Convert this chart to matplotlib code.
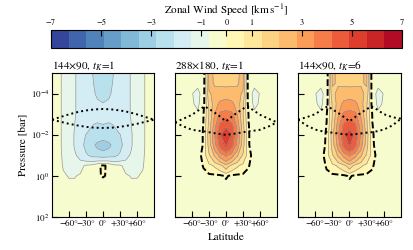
import numpy as np
import matplotlib
matplotlib.use("Agg")
import matplotlib.pyplot as plt

plt.rcParams['font.family'] = 'STIXGeneral'
plt.rcParams['mathtext.fontset'] = 'stix'

# ---------------- data ----------------
titles = [r'144$\times$90, $t_K$=1', r'288$\times$180, $t_K$=1', r'144$\times$90, $t_K$=6']
lat_half = [0, 10, 20, 30, 40, 50, 60, 70, 80, 90]              # degrees (field is symmetric)
logp_rows = [-5.0, -4.5, -4.0, -3.5, -3.0, -2.5, -2.0, -1.5, -1.0, -0.5, 0.0, 0.5, 1.0, 1.5, 2.0]

# zonal wind [km/s], rows = logp_rows, cols = lat_half
wind_144_tk1 = [
    [-2.50, -2.35, -2.05, -1.80, -1.60, -1.35, -1.05, -0.85, -0.45, -0.30],
    [-2.45, -2.30, -2.00, -1.80, -1.60, -1.35, -1.05, -0.85, -0.45, -0.30],
    [-2.35, -2.20, -1.95, -1.75, -1.60, -1.35, -1.05, -0.85, -0.45, -0.30],
    [-2.05, -1.95, -1.85, -1.75, -1.60, -1.35, -1.05, -0.85, -0.45, -0.30],
    [-1.80, -1.80, -1.75, -1.70, -1.60, -1.35, -1.05, -0.85, -0.45, -0.30],
    [-2.10, -2.20, -2.05, -1.85, -1.65, -1.40, -1.05, -0.85, -0.45, -0.30],
    [-2.60, -2.55, -2.40, -2.12, -1.80, -1.45, -1.10, -0.85, -0.45, -0.30],
    [-3.10, -2.95, -2.60, -2.25, -1.90, -1.45, -1.10, -0.85, -0.45, -0.30],
    [-2.40, -2.30, -2.25, -2.00, -1.65, -1.30, -1.00, -0.80, -0.45, -0.30],
    [ 0.08, -0.10, -0.50, -0.60, -0.90, -1.00, -0.95, -0.75, -0.45, -0.30],
    [ 0.03, -0.05, -0.25, -0.30, -0.60, -0.75, -0.75, -0.60, -0.40, -0.30],
    [-0.30, -0.30, -0.30, -0.30, -0.30, -0.40, -0.40, -0.35, -0.30, -0.30],
    [-0.30, -0.30, -0.30, -0.30, -0.30, -0.30, -0.30, -0.30, -0.30, -0.30],
    [-0.30, -0.30, -0.30, -0.30, -0.30, -0.30, -0.30, -0.30, -0.30, -0.30],
    [-0.30, -0.30, -0.30, -0.30, -0.30, -0.30, -0.30, -0.30, -0.30, -0.30],
]
wind_288_tk1 = [
    [1.85, 1.95, 2.00, 2.30, -0.50, -0.50, -0.45, -0.35, -0.35, -0.35],
    [1.95, 2.00, 2.05, 2.25, -0.45, -0.60, -0.50, -0.35, -0.35, -0.35],
    [2.60, 2.50, 2.30, 2.00, -0.40, -0.90, -0.67, -0.35, -0.35, -0.35],
    [3.10, 3.00, 2.45, 1.60, -0.30, -0.85, -0.62, -0.35, -0.35, -0.35],
    [3.90, 3.70, 2.80, 1.45, -0.05, -0.50, -0.45, -0.35, -0.35, -0.35],
    [4.80, 4.40, 3.20, 1.60, 0.02, -0.45, -0.40, -0.35, -0.35, -0.35],
    [5.40, 4.90, 3.50, 1.80, 0.05, -0.40, -0.40, -0.35, -0.35, -0.35],
    [5.00, 4.50, 3.20, 1.70, 0.05, -0.40, -0.40, -0.35, -0.35, -0.35],
    [3.60, 3.10, 2.20, 1.30, 0.30, -0.40, -0.40, -0.35, -0.35, -0.35],
    [1.80, 1.20, 0.80, 0.50, 0.05, -0.40, -0.40, -0.35, -0.35, -0.35],
    [0.10, -0.15, -0.20, -0.20, -0.30, -0.35, -0.35, -0.35, -0.35, -0.35],
    [-0.40, -0.40, -0.40, -0.40, -0.40, -0.35, -0.35, -0.35, -0.35, -0.35],
    [-0.40, -0.40, -0.40, -0.40, -0.40, -0.35, -0.35, -0.35, -0.35, -0.35],
    [-0.40, -0.40, -0.40, -0.40, -0.40, -0.35, -0.35, -0.35, -0.35, -0.35],
    [-0.40, -0.40, -0.40, -0.40, -0.40, -0.35, -0.35, -0.35, -0.35, -0.35],
]
wind_144_tk6 = [
    [1.85, 1.95, 2.00, 2.20, -0.50, -0.50, -0.45, -0.35, -0.35, -0.35],
    [1.95, 2.00, 2.05, 2.15, -0.45, -0.60, -0.50, -0.35, -0.35, -0.35],
    [2.60, 2.50, 2.30, 1.90, -0.40, -0.90, -0.67, -0.35, -0.35, -0.35],
    [3.10, 3.00, 2.40, 1.50, -0.30, -0.85, -0.62, -0.35, -0.35, -0.35],
    [3.90, 3.70, 2.70, 1.40, -0.05, -0.50, -0.45, -0.35, -0.35, -0.35],
    [4.70, 4.30, 3.10, 1.55, 0.02, -0.45, -0.40, -0.35, -0.35, -0.35],
    [5.30, 4.80, 3.40, 1.80, 0.10, -0.40, -0.40, -0.35, -0.35, -0.35],
    [5.00, 4.40, 3.10, 1.70, 0.15, -0.40, -0.40, -0.35, -0.35, -0.35],
    [3.60, 3.00, 2.20, 1.30, 0.40, -0.35, -0.40, -0.35, -0.35, -0.35],
    [1.80, 1.20, 0.80, 0.50, 0.10, -0.40, -0.40, -0.35, -0.35, -0.35],
    [0.10, -0.15, -0.20, -0.20, -0.30, -0.35, -0.35, -0.35, -0.35, -0.35],
    [-0.40, -0.40, -0.40, -0.40, -0.40, -0.35, -0.35, -0.35, -0.35, -0.35],
    [-0.40, -0.40, -0.40, -0.40, -0.40, -0.35, -0.35, -0.35, -0.35, -0.35],
    [-0.40, -0.40, -0.40, -0.40, -0.40, -0.35, -0.35, -0.35, -0.35, -0.35],
    [-0.40, -0.40, -0.40, -0.40, -0.40, -0.35, -0.35, -0.35, -0.35, -0.35],
]
fields = [wind_144_tk1, wind_288_tk1, wind_144_tk6]

# dotted curves (log10 pressure vs latitude)
dot_lat = [-90, -75, -60, -45, -38, -30, -15, 0, 15, 30, 38, 45, 60, 75, 90]
dot_upper = [
    [-2.73, -2.86, -2.99, -3.10, -3.14, -3.18, -3.23, -3.25, -3.23, -3.18, -3.14, -3.10, -2.99, -2.86, -2.73],
    [-2.60, -2.78, -2.97, -3.25, -3.38, -3.26, -2.98, -2.65, -2.98, -3.26, -3.38, -3.25, -2.97, -2.78, -2.60],
    [-2.73, -2.85, -3.00, -3.28, -3.38, -3.24, -2.97, -2.65, -2.97, -3.24, -3.38, -3.28, -3.00, -2.85, -2.78],
]
dot_lower = [
    [-2.73, -2.63, -2.53, -2.45, -2.42, -2.38, -2.34, -2.33, -2.34, -2.38, -2.42, -2.45, -2.53, -2.63, -2.73],
    [-2.60, -2.40, -2.24, -2.18, -2.16, -2.12, -2.05, -1.99, -2.05, -2.12, -2.16, -2.18, -2.24, -2.40, -2.60],
    [-2.73, -2.45, -2.25, -2.15, -2.12, -2.10, -2.04, -2.00, -2.04, -2.10, -2.12, -2.15, -2.25, -2.45, -2.78],
]

levels = np.linspace(-7, 7, 21)
cbar_ticks = [-7, -5, -3, -1, 0, 1, 3, 5, 7]
cbar_ticklabels = ['\u22127', '\u22125', '\u22123', '\u22121', '0', '1', '3', '5', '7']
xticks = [-60, -30, 0, 30, 60]
xticklabels = ['\u221260\u00b0', '\u221230\u00b0', '0\u00b0', '+30\u00b0', '+60\u00b0']

# ---------------- figure ----------------
fig = plt.figure(figsize=(4.14, 2.50), dpi=100)
W, H = 414.0, 250.0
ax_px = [(52, 102), (175, 102), (298, 103)]
top_px, bot_px = 73, 217

lat_half_a = np.array(lat_half, float)
lat_full = np.concatenate([-lat_half_a[:0:-1], lat_half_a])
p_rows = 10.0 ** np.array(logp_rows)

axes = []
cs_main = None
for i, (x0, w) in enumerate(ax_px):
    ax = fig.add_axes([x0 / W, (H - bot_px) / H, w / W, (bot_px - top_px) / H])
    axes.append(ax)
    half = np.array(fields[i], float)
    full = np.hstack([half[:, :0:-1], half])
    cs = ax.contourf(lat_full, p_rows, full, levels=levels, cmap='RdYlBu_r')
    if cs_main is None:
        cs_main = cs
    grey_lv = [lv for lv in levels if abs(lv) > 1e-9]
    ax.contour(lat_full, p_rows, full, levels=grey_lv, colors='#959595', linewidths=0.5,
               linestyles='solid')
    ax.contour(lat_full, p_rows, full, levels=[0.0], colors='k', linewidths=1.4,
               linestyles=[(0, (3.5, 1.5))])
    ax.plot(dot_lat, 10.0 ** np.array(dot_upper[i]), color='k', lw=1.4, ls=(0, (1, 1.6)))
    ax.plot(dot_lat, 10.0 ** np.array(dot_lower[i]), color='k', lw=1.4, ls=(0, (1, 1.6)))
    ax.set_yscale('log')
    ax.set_ylim(1e2, 1e-5)
    ax.set_xlim(-90, 90)
    ax.set_yticks([1e-4, 1e-2, 1e0, 1e2])
    ax.yaxis.set_minor_locator(matplotlib.ticker.NullLocator())
    ax.set_xticks(xticks)
    ax.set_xticklabels(xticklabels, fontsize=6.5)
    ax.tick_params(direction='in', length=4, width=0.8, labelsize=6.5, pad=2)
    for s in ax.spines.values():
        s.set_linewidth(0.8)
    if i > 0:
        ax.set_yticklabels([])
    ax.set_title(titles[i], loc='left', fontsize=8, pad=3)

axes[0].set_ylabel('Pressure [bar]', fontsize=8, labelpad=2)
axes[1].set_xlabel('Latitude', fontsize=8, labelpad=3)

cax = fig.add_axes([51 / W, (H - 48) / H, 351 / W, 18 / H])
cb = fig.colorbar(cs_main, cax=cax, orientation='horizontal')
cb.set_ticks(cbar_ticks)
cb.set_ticklabels(cbar_ticklabels)
cax.xaxis.set_ticks_position('top')
cax.xaxis.set_label_position('top')
cax.tick_params(direction='in', length=4, width=0.8, labelsize=6, pad=2)
cb.outline.set_linewidth(0.8)
cax.xaxis.set_minor_locator(matplotlib.ticker.NullLocator())
cb.set_label('Zonal Wind Speed [km$\\,$s$^{-1}$]', fontsize=8, labelpad=4)

fig.savefig('out.png', dpi=100)
